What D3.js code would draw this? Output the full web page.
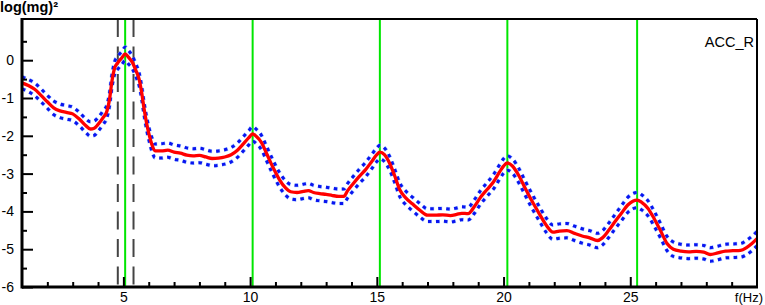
<!DOCTYPE html>
<html>
<head>
<meta charset="utf-8">
<script src="https://cdn.jsdelivr.net/npm/d3@7"></script>
<style>
  html, body { margin: 0; padding: 0; background: #fff; }
  svg { display: block; }
  text { font-family: "Liberation Sans", Arial, sans-serif; fill: #000; }
</style>
</head>
<body>
<svg id="chart" width="765" height="305"></svg>
<script>
// ---- data ----
const freq = [
  1.0,1.25,1.5,1.75,2.0,2.25,2.5,2.75,3.0,3.25,
  3.5,3.7,3.85,4.0,4.2,4.35,4.45,4.55,4.65,4.8,
  4.95,5.07,5.2,5.35,5.5,5.62,5.72,5.82,5.92,6.02,
  6.12,6.25,6.5,6.75,7.0,7.25,7.5,7.75,8.0,8.25,
  8.5,8.75,9.0,9.25,9.5,9.75,9.95,10.1,10.25,10.45,
  10.65,10.9,11.15,11.4,11.6,11.85,12.1,12.3,12.5,12.75,
  13.0,13.25,13.5,13.7,13.85,14.05,14.3,14.55,14.8,15.0,
  15.12,15.3,15.5,15.7,15.9,16.15,16.4,16.7,17.0,17.3,
  17.6,17.9,18.15,18.35,18.6,18.85,19.1,19.35,19.6,19.85,
  20.0,20.15,20.35,20.6,20.85,21.1,21.4,21.7,21.95,22.2,
  22.5,22.8,23.1,23.4,23.7,23.9,24.15,24.4,24.65,24.9,
  25.1,25.27,25.45,25.7,25.95,26.2,26.45,26.7,27.0,27.3,
  27.6,27.9,28.15,28.45,28.75,29.05,29.35,29.6,29.8,30.0
];
const logPower = [
  -0.60,-0.67,-0.77,-0.93,-1.10,-1.26,-1.34,-1.38,-1.42,-1.55,
  -1.72,-1.82,-1.80,-1.70,-1.52,-1.35,-1.05,-0.55,-0.22,-0.05,
  0.07,0.17,0.08,-0.05,-0.28,-0.50,-0.85,-1.30,-1.68,-1.98,
  -2.22,-2.40,-2.40,-2.38,-2.43,-2.46,-2.51,-2.53,-2.52,-2.56,
  -2.60,-2.59,-2.56,-2.50,-2.38,-2.20,-2.05,-1.95,-2.02,-2.18,
  -2.47,-2.83,-3.15,-3.38,-3.48,-3.50,-3.47,-3.45,-3.50,-3.53,
  -3.55,-3.58,-3.60,-3.60,-3.45,-3.28,-3.08,-2.90,-2.68,-2.50,
  -2.43,-2.50,-2.72,-3.05,-3.42,-3.65,-3.80,-3.97,-4.10,-4.10,
  -4.09,-4.11,-4.08,-4.05,-4.06,-3.87,-3.62,-3.42,-3.22,-2.95,
  -2.80,-2.72,-2.80,-3.05,-3.38,-3.70,-4.05,-4.38,-4.55,-4.52,
  -4.51,-4.58,-4.65,-4.70,-4.77,-4.70,-4.50,-4.27,-4.05,-3.83,
  -3.73,-3.70,-3.76,-3.92,-4.20,-4.52,-4.85,-5.00,-5.05,-5.07,
  -5.06,-5.08,-5.14,-5.10,-5.05,-5.04,-5.03,-4.95,-4.85,-4.72
];
// half-width of the confidence band (log units)
const ciHalf = [
  0.16,0.16,0.17,0.17,0.17,0.18,0.18,0.18,0.18,0.18,
  0.18,0.19,0.19,0.18,0.18,0.17,0.17,0.17,0.17,0.17,
  0.17,0.18,0.18,0.17,0.17,0.17,0.17,0.17,0.17,0.17,
  0.18,0.18,0.19,0.19,0.19,0.19,0.19,0.19,0.19,0.19,
  0.19,0.19,0.19,0.19,0.19,0.19,0.19,0.19,0.19,0.19,
  0.19,0.19,0.19,0.19,0.19,0.19,0.19,0.19,0.19,0.19,
  0.19,0.19,0.19,0.19,0.19,0.19,0.19,0.19,0.19,0.18,
  0.18,0.18,0.18,0.18,0.18,0.18,0.18,0.18,0.17,0.17,
  0.17,0.17,0.17,0.17,0.17,0.18,0.18,0.18,0.19,0.19,
  0.19,0.19,0.19,0.19,0.19,0.19,0.19,0.19,0.19,0.19,
  0.19,0.19,0.19,0.19,0.19,0.19,0.19,0.19,0.20,0.20,
  0.20,0.20,0.20,0.20,0.20,0.19,0.19,0.19,0.18,0.18,
  0.18,0.18,0.18,0.18,0.18,0.18,0.18,0.19,0.19,0.19
];
const harmonics = [5.07, 10.1, 15.12, 20.15, 25.27];
const bandEdges = [4.78, 5.4];
const xTickLabels = [5, 10, 15, 20, 25];
const yTickLabels = [0, -1, -2, -3, -4, -5, -6];
const xDomain = [1, 30];
const yDomain = [-6, 1.09];
const yLabel = "log(mg)²";
const xLabel = "f(Hz)";
const channel = "ACC_R";

// ---- layout ----
const svg = d3.select("#chart");
const L = 22, R = 757, T = 19, B = 287;
const x = d3.scaleLinear().domain(xDomain).range([L, R]);
const y = d3.scaleLinear().domain(yDomain).range([B, T]);

const data = freq.map((f, i) => ({ f, v: logPower[i], h: ciHalf[i] }));

// vertical reference lines
svg.append("g").selectAll("line").data(bandEdges).join("line")
  .attr("x1", d => x(d)).attr("x2", d => x(d))
  .attr("y1", T).attr("y2", B)
  .attr("stroke", "#444").attr("stroke-width", 2)
  .attr("stroke-dasharray", "18,9.5");

svg.append("g").selectAll("line").data(harmonics).join("line")
  .attr("x1", d => x(d)).attr("x2", d => x(d))
  .attr("y1", T).attr("y2", B)
  .attr("stroke", "#00e600").attr("stroke-width", 2);

// curves
const mk = acc => d3.line().x(d => x(d.f)).y(acc).curve(d3.curveMonotoneX);
const upper = mk(d => y(d.v + d.h));
const lower = mk(d => y(d.v - d.h));
const mid = mk(d => y(d.v));

[upper, lower].forEach(gen => {
  svg.append("path").datum(data).attr("d", gen)
    .attr("fill", "none").attr("stroke", "#7fb8ff").attr("stroke-width", 4)
    .attr("stroke-dasharray", "4,4").attr("opacity", 0.6);
  svg.append("path").datum(data).attr("d", gen)
    .attr("fill", "none").attr("stroke", "#0a14f0").attr("stroke-width", 3)
    .attr("stroke-dasharray", "3.5,4.5");
});

svg.append("path").datum(data).attr("d", mid)
  .attr("fill", "none").attr("stroke", "#ff0000").attr("stroke-width", 3.3)
  .attr("stroke-linejoin", "round");

// frame
svg.append("line").attr("x1", L).attr("x2", R).attr("y1", T).attr("y2", T)
  .attr("stroke", "#000").attr("stroke-width", 2);
svg.append("line").attr("x1", R).attr("x2", R).attr("y1", T).attr("y2", B)
  .attr("stroke", "#000").attr("stroke-width", 2);

// axes
const plain = d => String(d);
const xMajor = d3.axisBottom(x).tickValues(xTickLabels).tickSize(-10).tickFormat(plain);
const xMinor = d3.axisBottom(x).tickValues(d3.range(2, 30, 1).filter(v => v % 5 !== 0))
  .tickSize(-5).tickFormat("");
const yMajor = d3.axisLeft(y).tickValues(yTickLabels).tickSize(-11).tickFormat(plain);
const yMinor = d3.axisLeft(y).tickValues([0.5, -0.5, -1.5, -2.5, -3.5, -4.5, -5.5])
  .tickSize(-5).tickFormat("");

function style(g) {
  g.select(".domain").remove();
  g.selectAll(".tick line").attr("stroke", "#000").attr("stroke-width", 2);
  g.selectAll(".tick text").attr("font-size", 14).attr("fill", "#000")
    .attr("font-family", "Liberation Sans, Arial, sans-serif");
}
svg.append("g").attr("transform", `translate(0,${B})`).call(xMinor).call(style);
const xg = svg.append("g").attr("transform", `translate(0,${B})`).call(xMajor).call(style);
xg.selectAll(".tick text").attr("y", 5).attr("dy", "0.71em");
svg.append("g").attr("transform", `translate(${L},0)`).call(yMinor).call(style);
const yg = svg.append("g").attr("transform", `translate(${L},0)`).call(yMajor).call(style);
yg.selectAll(".tick text").attr("x", -8);

// axis lines (thick)
svg.append("line").attr("x1", L).attr("x2", R + 1).attr("y1", B).attr("y2", B)
  .attr("stroke", "#000").attr("stroke-width", 3);
svg.append("line").attr("x1", L).attr("x2", L).attr("y1", T - 1).attr("y2", B + 1.5)
  .attr("stroke", "#000").attr("stroke-width", 3);

// labels
svg.append("text").attr("x", 0).attr("y", 12).attr("font-size", 14.5)
  .attr("font-weight", "bold").text(yLabel);
svg.append("text").attr("x", 754).attr("y", 47).attr("text-anchor", "end")
  .attr("font-size", 14.5).text(channel);
svg.append("text").attr("x", 763).attr("y", 302).attr("text-anchor", "end")
  .attr("font-size", 13).text(xLabel);
</script>
</body>
</html>
